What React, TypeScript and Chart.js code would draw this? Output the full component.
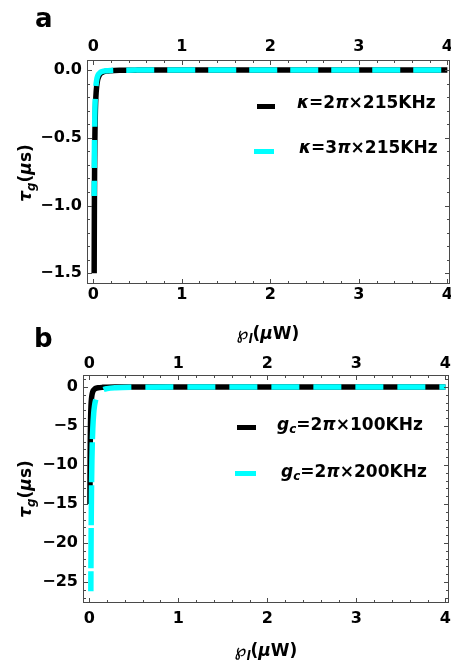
import React, { useEffect, useRef } from "react";
import { Chart, registerables } from "chart.js";

Chart.register(...registerables);

const FONT_FAMILY = '"DejaVu Sans", "Liberation Sans", Arial, sans-serif';
const BLACK = "#000000";
const CYAN = "#00FFFF";
const FRAME = "#4a4a4a";

// ---------------- Panel a: tau_g (us) vs pump power (uW) ----------------
const powerA = [0.011, 0.012, 0.013, 0.014, 0.016, 0.018, 0.02, 0.025, 0.03, 0.04, 0.05, 0.06, 0.08, 0.1, 0.15, 0.2, 0.3, 0.5, 1, 2, 3, 4];
const tauA_kappa2 = [-1.5, -1.264, -1.077, -0.929, -0.711, -0.562, -0.455, -0.291, -0.202, -0.114, -0.073, -0.051, -0.028, -0.018, -0.008, -0.0046, -0.002, -0.0007, -0.0002, 0, 0, 0];
const tauA_kappa3 = [-0.93, -0.78, -0.67, -0.58, -0.44, -0.35, -0.28, -0.18, -0.125, -0.071, -0.045, -0.031, -0.018, -0.011, -0.005, -0.0028, -0.0013, -0.0005, -0.0001, 0, 0, 0];
const legendA = ["*κ*=2*π*×215KHz", "*κ*=3*π*×215KHz"];

// ---------------- Panel b ----------------
const powerB_g100 = [0.008, 0.009, 0.01, 0.012, 0.014, 0.016, 0.02, 0.025, 0.03, 0.04, 0.05, 0.06, 0.08, 0.1, 0.15, 0.2, 0.3, 0.5, 1, 2, 4];
const tauB_g100 = [-15, -11.85, -9.6, -6.67, -4.9, -3.75, -2.4, -1.54, -1.07, -0.6, -0.384, -0.267, -0.15, -0.096, -0.043, -0.024, -0.011, -0.0038, -0.001, -0.0002, 0];
const powerB_g200 = [0.018, 0.019, 0.02, 0.022, 0.025, 0.03, 0.035, 0.04, 0.05, 0.06, 0.08, 0.1, 0.15, 0.2, 0.3, 0.5, 1, 2, 4];
const tauB_g200 = [-26.2, -23.5, -21.3, -17.6, -13.6, -9.4, -6.9, -5.3, -3.4, -2.36, -1.33, -0.85, -0.38, -0.21, -0.094, -0.034, -0.0085, -0.002, -0.0005];
const legendB = ["*g*_c=2*π*×100KHz", "*g*_c=2*π*×200KHz"];

// ---------------- Ticks ----------------
const xTicks = [0, 1, 2, 3, 4];
const xTickLabels = ["0", "1", "2", "3", "4"];
const yTicksA = [0, -0.5, -1, -1.5];
const yTickLabelsA = ["0.0", "−0.5", "−1.0", "−1.5"];
const yTicksB = [0, -5, -10, -15, -20, -25];
const yTickLabelsB = ["0", "−5", "−10", "−15", "−20", "−25"];

const xAxisTitle = "℘_l(*μ*W)";
const yAxisTitle = "*τ*_g(*μ*s)";

function range(start: number, end: number, step: number): number[] {
  const out: number[] = [];
  const n = Math.round((end - start) / step);
  for (let i = 0; i <= n; i++) out.push(+(start + i * step).toFixed(6));
  return out;
}

const framePlugin = {
  id: "frame",
  afterDatasetsDraw(chart: any, _args: any, opts: any) {
    const { ctx, chartArea: a, scales } = chart;
    const sx = scales.x;
    const sy = scales.y;
    ctx.save();
    ctx.strokeStyle = FRAME;
    ctx.lineWidth = 1;
    ctx.strokeRect(a.left + 0.5, a.top + 0.5, a.right - a.left - 1, a.bottom - a.top - 1);
    const drawX = (vals: number[], len: number) => {
      vals.forEach((v) => {
        const px = Math.round(sx.getPixelForValue(v)) + 0.5;
        if (px < a.left || px > a.right) return;
        ctx.beginPath();
        ctx.moveTo(px, a.bottom);
        ctx.lineTo(px, a.bottom - len);
        ctx.moveTo(px, a.top);
        ctx.lineTo(px, a.top + len);
        ctx.stroke();
      });
    };
    const drawY = (vals: number[], len: number) => {
      vals.forEach((v) => {
        const py = Math.round(sy.getPixelForValue(v)) + 0.5;
        if (py < a.top || py > a.bottom) return;
        ctx.beginPath();
        ctx.moveTo(a.left, py);
        ctx.lineTo(a.left + len, py);
        ctx.moveTo(a.right, py);
        ctx.lineTo(a.right - len, py);
        ctx.stroke();
      });
    };
    drawX(opts.xMinor, 3);
    drawX(opts.xMajor, 5);
    drawY(opts.yMinor, 3);
    drawY(opts.yMajor, 5);
    ctx.restore();
  },
};

const tickFont = { family: FONT_FAMILY, size: 16, weight: "bold" as const };

interface PanelSpec {
  width: number;
  height: number;
  left: number;
  right: number;
  top: number;
  bottom: number;
  xMin: number;
  xMax: number;
  yMin: number;
  yMax: number;
  yTicks: number[];
  yTickLabels: string[];
  yMinor: number[];
  topPad: number;
  bottomPad: number;
  dash: number[];
  dashOffset: number;
  steep?: { dash: number[]; offset: number; flatOffset: number };
  series: { x: number[]; y: number[]; color: string; dashed: boolean; label: string }[];
}

function xScale(position: "top" | "bottom", spec: PanelSpec, size: number, pad: number) {
  return {
    type: "linear",
    position,
    min: spec.xMin,
    max: spec.xMax,
    grid: { display: false, drawTicks: false },
    border: { display: false },
    ticks: {
      font: tickFont,
      color: BLACK,
      padding: pad,
      maxRotation: 0,
      autoSkip: false,
      callback: (v: number) => {
        const i = xTicks.indexOf(v);
        return i >= 0 ? xTickLabels[i] : "";
      },
    },
    afterBuildTicks: (s: any) => {
      s.ticks = xTicks.map((v) => ({ value: v }));
    },
    afterFit: (s: any) => {
      s.height = size;
      s.paddingLeft = 0;
      s.paddingRight = 0;
    },
  };
}

const isSteep = (c: any) => Math.abs(c.p1.y - c.p0.y) > 3 * Math.abs(c.p1.x - c.p0.x);

function makeChart(canvas: HTMLCanvasElement, spec: PanelSpec) {
  return new Chart(canvas, {
    type: "line",
    data: {
      datasets: spec.series.map((s) => {
        const steep = s.dashed ? spec.steep : undefined;
        return {
          label: s.label,
          data: s.x.map((x, j) => ({ x, y: s.y[j] })),
          borderColor: s.color,
          backgroundColor: s.color,
          borderWidth: 5.5,
          borderDash: s.dashed ? spec.dash : [],
          borderDashOffset: s.dashed ? spec.dashOffset : 0,
          borderJoinStyle: "round",
          borderCapStyle: "butt",
          cubicInterpolationMode: "monotone",
          pointRadius: 0,
          fill: false,
          order: s.dashed ? 0 : 1,
          xAxisID: "x",
          yAxisID: "y",
          segment: steep
            ? {
                borderDash: (c: any) => (isSteep(c) ? steep.dash : spec.dash),
                borderDashOffset: (c: any) => (isSteep(c) ? steep.offset : steep.flatOffset),
              }
            : undefined,
        };
      }),
    },
    options: {
      animation: false,
      responsive: false,
      maintainAspectRatio: false,
      events: [],
      layout: { padding: { left: 0, top: 0, bottom: 0, right: spec.width - spec.right } },
      plugins: {
        legend: { display: false },
        tooltip: { enabled: false },
        frame: {
          xMajor: xTicks,
          xMinor: range(0, 4, 0.2),
          yMajor: spec.yTicks,
          yMinor: spec.yMinor,
        },
      } as any,
      scales: {
        x: xScale("bottom", spec, spec.height - spec.bottom, spec.bottomPad),
        x2: xScale("top", spec, spec.top, spec.topPad),
        y: {
          type: "linear",
          position: "left",
          min: spec.yMin,
          max: spec.yMax,
          grid: { display: false, drawTicks: false },
          border: { display: false },
          ticks: {
            font: tickFont,
            color: BLACK,
            padding: 5,
            autoSkip: false,
            callback: (v: number) => {
              const i = spec.yTicks.indexOf(v);
              return i >= 0 ? spec.yTickLabels[i] : "";
            },
          },
          afterBuildTicks: (s: any) => {
            s.ticks = spec.yTicks.map((v) => ({ value: v }));
          },
          afterFit: (s: any) => {
            s.width = spec.left;
            s.paddingTop = 0;
            s.paddingBottom = 0;
          },
        },
      } as any,
    },
    plugins: [framePlugin],
  } as any);
}

function renderRich(markup: string): React.ReactNode[] {
  const out: React.ReactNode[] = [];
  let italic = false;
  let buf = "";
  let key = 0;
  const flush = () => {
    if (buf) {
      out.push(
        <span key={key++} style={{ fontStyle: italic ? "italic" : "normal" }}>
          {buf}
        </span>
      );
      buf = "";
    }
  };
  for (let i = 0; i < markup.length; i++) {
    const c = markup[i];
    if (c === "*") {
      flush();
      italic = !italic;
      continue;
    }
    if (c === "_") {
      flush();
      out.push(
        <span
          key={key++}
          style={{ fontStyle: "italic", fontSize: "0.7em", position: "relative", top: "0.3em", lineHeight: 0 }}
        >
          {markup[i + 1]}
        </span>
      );
      i++;
      continue;
    }
    buf += c;
  }
  flush();
  return out;
}

const baseText: React.CSSProperties = {
  position: "absolute",
  fontFamily: FONT_FAMILY,
  fontWeight: "bold",
  color: BLACK,
  whiteSpace: "nowrap",
  lineHeight: 1,
};

function TextAt({ x, baseline, size, markup }: { x: number; baseline: number; size: number; markup: string }) {
  return <div style={{ ...baseText, left: x, top: baseline - 0.846 * size, fontSize: size }}>{renderRich(markup)}</div>;
}

function CenteredText({ cx, cy, size, markup, rotate }: { cx: number; cy: number; size: number; markup: string; rotate?: boolean }) {
  return (
    <div
      style={{
        ...baseText,
        left: cx,
        top: cy,
        fontSize: size,
        transform: `translate(-50%, -50%)${rotate ? " rotate(-90deg)" : ""}`,
      }}
    >
      {renderRich(markup)}
    </div>
  );
}

function Marker({ x, cy, w, color }: { x: number; cy: number; w: number; color: string }) {
  return <div style={{ position: "absolute", left: x, top: cy - 2.5, width: w, height: 5, background: color }} />;
}

const specA: PanelSpec = {
  width: 451,
  height: 320,
  left: 87,
  right: 450,
  top: 60,
  bottom: 284,
  xMin: -0.07,
  xMax: 4.03,
  yMin: -1.579,
  yMax: 0.074,
  yTicks: yTicksA,
  yTickLabels: yTickLabelsA,
  yMinor: range(-1.5, 0, 0.1),
  topPad: 4,
  bottomPad: 1,
  dash: [28, 13],
  dashOffset: 13,
  series: [
    { x: powerA, y: tauA_kappa2, color: BLACK, dashed: false, label: "κ=2π×215KHz" },
    { x: powerA, y: tauA_kappa3, color: CYAN, dashed: true, label: "κ=3π×215KHz" },
  ],
};

const specB: PanelSpec = {
  width: 451,
  height: 345,
  left: 83,
  right: 449,
  top: 55,
  bottom: 283,
  xMin: -0.07,
  xMax: 4.04,
  yMin: -27.7,
  yMax: 1.54,
  yTicks: yTicksB,
  yTickLabels: yTickLabelsB,
  yMinor: range(-27, 1, 1),
  topPad: 2,
  bottomPad: 6,
  dash: [28, 14],
  dashOffset: 8,
  steep: { dash: [40, 3], offset: 20, flatOffset: 31 },
  series: [
    { x: powerB_g100, y: tauB_g100, color: BLACK, dashed: false, label: "gc=2π×100KHz" },
    { x: powerB_g200, y: tauB_g200, color: CYAN, dashed: true, label: "gc=2π×200KHz" },
  ],
};

function Panel({ spec, top }: { spec: PanelSpec; top: number }) {
  const ref = useRef<HTMLCanvasElement | null>(null);
  useEffect(() => {
    if (!ref.current) return;
    const chart = makeChart(ref.current, spec);
    return () => chart.destroy();
  }, [spec]);
  return (
    <canvas
      ref={ref}
      width={spec.width}
      height={spec.height}
      style={{ position: "absolute", left: 0, top, width: spec.width, height: spec.height, display: "block" }}
    />
  );
}

export default function App() {
  return (
    <div style={{ position: "absolute", left: 0, top: 0, width: 451, height: 665, background: "#ffffff", overflow: "hidden" }}>
      <Panel spec={specA} top={0} />
      <Panel spec={specB} top={320} />

      {/* panel letters */}
      <TextAt x={35} baseline={27} size={26} markup="a" />
      <TextAt x={34} baseline={347} size={26} markup="b" />

      {/* axis titles */}
      <CenteredText cx={268} cy={333} size={17} markup={xAxisTitle} />
      <CenteredText cx={266} cy={650} size={17} markup={xAxisTitle} />
      <CenteredText cx={25} cy={173} size={17} markup={yAxisTitle} rotate />
      <CenteredText cx={25} cy={489} size={17} markup={yAxisTitle} rotate />

      {/* legend a */}
      <Marker x={257} cy={106} w={18} color={BLACK} />
      <TextAt x={297} baseline={108} size={17} markup={legendA[0]} />
      <Marker x={254} cy={151} w={20} color={CYAN} />
      <TextAt x={299} baseline={153} size={17} markup={legendA[1]} />

      {/* legend b */}
      <Marker x={237} cy={427} w={19} color={BLACK} />
      <TextAt x={277} baseline={430} size={17} markup={legendB[0]} />
      <Marker x={235} cy={473} w={21} color={CYAN} />
      <TextAt x={281} baseline={477} size={17} markup={legendB[1]} />
    </div>
  );
}
